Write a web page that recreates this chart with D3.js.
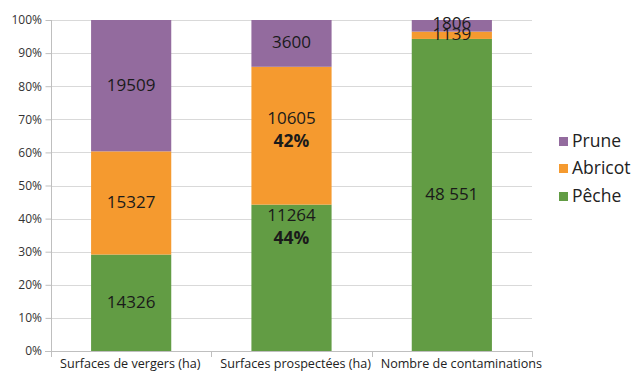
<!DOCTYPE html>
<html><head><meta charset="utf-8">
<script src="https://cdn.jsdelivr.net/npm/d3@7"></script>
<style>body{margin:0;background:#fff}svg{display:block;font-family:"Open Sans",sans-serif}</style>
</head><body><svg id="c" width="634" height="371"></svg>
<script>
const categories = ["Surfaces de vergers (ha)", "Surfaces prospectées (ha)", "Nombre de contaminations"];
const seriesNames = ["Pêche", "Abricot", "Prune"];
const peche = [14326, 11264, 48551];
const abricot = [15327, 10605, 1139];
const prune = [19509, 3600, 1806];
const pecheLabels = ["14326", "11264", "48 551"];
const abricotLabels = ["15327", "10605", "1139"];
const pruneLabels = ["19509", "3600", "1806"];
const yTicks = [0, 0.1, 0.2, 0.3, 0.4, 0.5, 0.6, 0.7, 0.8, 0.9, 1];
const colors = ["#629c44", "#f59a2f", "#936b9e"];

const svg = d3.select("#c");
const x = d3.scaleBand().domain(categories).range([51, 532]).paddingInner(0.5).paddingOuter(0.25);
const y = d3.scaleLinear().domain([0, 1]).range([351, 20]);

// gridlines
svg.append("g").selectAll("line").data(yTicks.slice(1)).join("line")
  .attr("x1", 51).attr("x2", 532).attr("y1", d => Math.round(y(d)) + 0.5).attr("y2", d => Math.round(y(d)) + 0.5)
  .attr("stroke", "#d9d9d9").attr("stroke-width", 1);

const data = categories.map((c, i) => ({cat: c, Pêche: peche[i], Abricot: abricot[i], Prune: prune[i]}));
const labels = {"Pêche": pecheLabels, "Abricot": abricotLabels, "Prune": pruneLabels};
const stack = d3.stack().keys(seriesNames).offset(d3.stackOffsetExpand);
const stacked = stack(data);

const g = svg.append("g");
stacked.forEach((s, si) => {
  g.append("g").attr("fill", colors[si]).selectAll("rect").data(s).join("rect")
    .attr("x", d => x(d.data.cat)).attr("width", x.bandwidth())
    .attr("y", d => y(d[1])).attr("height", d => y(d[0]) - y(d[1]));
});

// axes
const ya = d3.axisLeft(y).tickValues(yTicks).tickFormat(d3.format(".0%")).tickSize(6).tickPadding(3);
const yg = svg.append("g").attr("transform", "translate(51,0)").call(ya);
yg.select(".domain").attr("stroke", "#bfbfbf").attr("d", "M0.5,20V356");
yg.selectAll(".tick line").attr("stroke", "#bfbfbf").attr("x1", 0.5).attr("x2", -5.5);
yg.selectAll("text").attr("font-size", 12).attr("fill", "#333").attr("font-family", "'Open Sans',sans-serif");

const xg = svg.append("g").attr("transform", "translate(0,351)");
xg.append("line").attr("x1", 45).attr("x2", 532).attr("y1", 0.5).attr("y2", 0.5).attr("stroke", "#bfbfbf");
const edges = categories.map(c => x(c) - x.step() * 0.25).concat([532]);
xg.selectAll(".tk").data(edges).join("line").attr("class", "tk")
  .attr("x1", d => Math.round(d) + 0.5).attr("x2", d => Math.round(d) + 0.5).attr("y1", 0).attr("y2", 6).attr("stroke", "#bfbfbf");
xg.selectAll(".lb").data(categories).join("text").attr("class", "lb")
  .attr("x", d => x(d) - x.step() * 0.25 + 9).attr("y", 17).attr("text-anchor", "start")
  .attr("font-size", 12.6).attr("fill", "#222").text(d => d);

// data labels
const lg = svg.append("g").attr("font-size", 17).attr("fill", "#1a1a1a").attr("text-anchor", "middle");
stacked.forEach((s, si) => {
  s.forEach((d, ci) => {
    const cx = x(d.data.cat) + x.bandwidth() / 2;
    const top = y(d[1]), bot = y(d[0]);
    const txt = labels[s.key][ci];
    const showPct = ci === 1 && s.key !== "Prune";
    if (showPct) {
      const pct = d3.format(".0%")(d[1] - d[0]);
      let y0;
      if (s.key === "Pêche") y0 = top + 16; else y0 = (top + bot) / 2 - 12;
      lg.append("text").attr("x", cx).attr("y", y0).text(txt);
      lg.append("text").attr("x", cx).attr("y", y0 + 23).attr("font-weight", "bold").attr("font-size", 17.5).text(pct);
    } else {
      let cy = (top + bot) / 2;
      if (ci === 2 && s.key === "Abricot") cy = top + 3;
      if (ci === 2 && s.key === "Prune") cy = top + 4;
      lg.append("text").attr("x", cx).attr("y", cy + 5).text(txt);
    }
  });
});

// legend
const leg = svg.append("g");
const order = ["Prune", "Abricot", "Pêche"];
const legY = [141, 168, 196];
order.forEach((n, i) => {
  const si = seriesNames.indexOf(n);
  leg.append("rect").attr("x", 559).attr("y", legY[i] - 4).attr("width", 9).attr("height", 9).attr("fill", colors[si]);
  leg.append("text").attr("x", 572).attr("y", legY[i] + 6).attr("font-size", 17.5).attr("fill", "#222").text(n);
});
</script></body></html>
